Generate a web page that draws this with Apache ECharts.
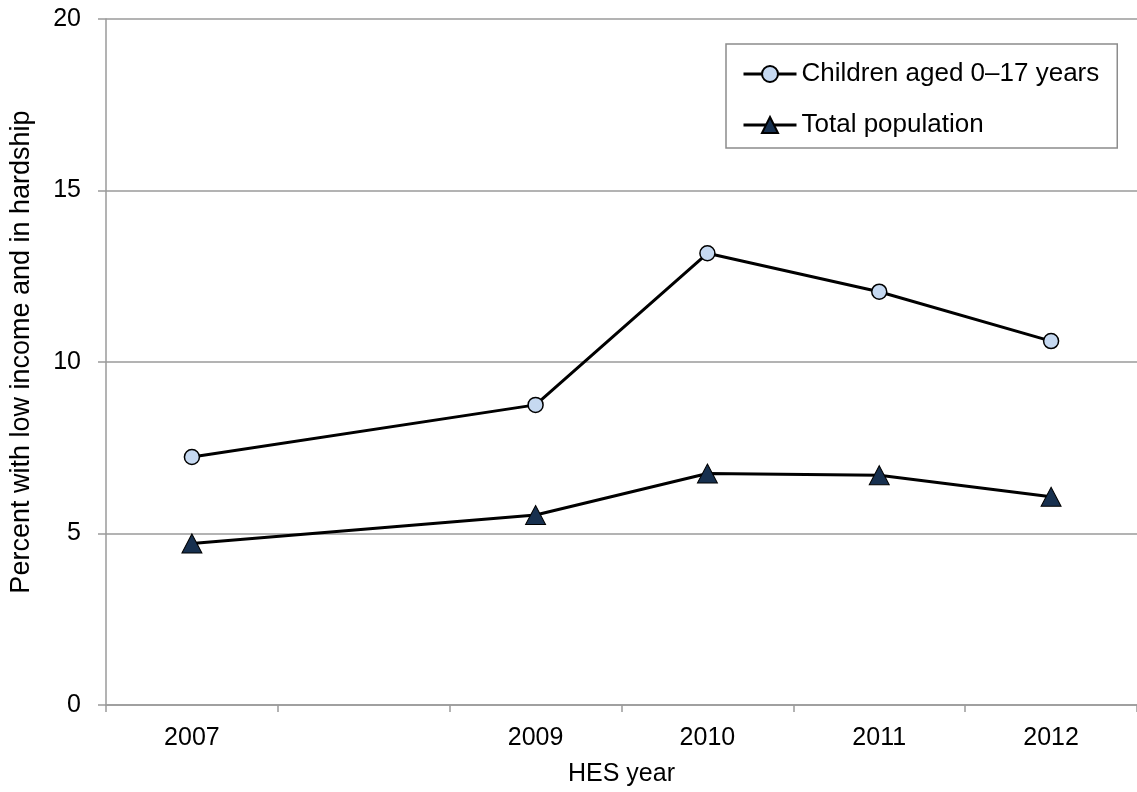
<!DOCTYPE html>
<html>
<head>
<meta charset="utf-8">
<script src="https://cdn.jsdelivr.net/npm/echarts@6/dist/echarts.min.js"></script>
<style>
  html, body { margin: 0; padding: 0; background: #fff; }
  #chart { width: 1137px; height: 792px; }
</style>
</head>
<body>
<div id="chart"></div>
<script>
// HES survey years; 2008 has no survey, so its slot is left unlabelled
const years = ['2007', '2008', '2009', '2010', '2011', '2012'];
const yearLabels = ['2007', '', '2009', '2010', '2011', '2012'];

// Percent with low income and in hardship
const children = [7.23, null, 8.75, 13.17, 12.05, 10.61];
const totalPopulation = [4.71, null, 5.54, 6.75, 6.70, 6.07];

const yTicks = [0, 5, 10, 15, 20];

const FONT = '"Liberation Sans", Arial, sans-serif';
const GRID_GREY = '#9a9a9a';

const chart = echarts.init(document.getElementById('chart'), null, { renderer: 'canvas' });

chart.setOption({
  animation: false,
  backgroundColor: '#ffffff',
  textStyle: { fontFamily: FONT, color: '#000' },
  grid: { left: 105, top: 19, width: 1041, height: 686, containLabel: false },
  legend: {
    orient: 'vertical',
    left: 726,
    top: 44,
    padding: [17, 18, 10, 16],
    itemGap: 25,
    itemWidth: 53,
    itemHeight: 20,
    itemTextGap: 5,
    backgroundColor: '#fff',
    borderColor: '#8c8c8c',
    borderWidth: 1.5,
    lineStyle: { width: 3 },
    textStyle: { fontFamily: FONT, fontSize: 26, color: '#000' },
    data: ['Children aged 0–17 years', 'Total population']
  },
  xAxis: {
    type: 'category',
    data: years,
    boundaryGap: true,
    name: 'HES year',
    nameLocation: 'middle',
    nameGap: 57,
    nameTextStyle: { fontFamily: FONT, fontSize: 25, color: '#000' },
    axisLine: { lineStyle: { color: GRID_GREY, width: 1.5 } },
    axisTick: { show: true, alignWithLabel: false, length: 7, lineStyle: { color: GRID_GREY, width: 1.5 } },
    axisLabel: {
      margin: 21,
      fontFamily: FONT, fontSize: 25, color: '#000',
      interval: 0,
      formatter: (v, i) => yearLabels[i]
    },
    splitLine: { show: false }
  },
  yAxis: {
    type: 'value',
    min: yTicks[0],
    max: yTicks[yTicks.length - 1],
    interval: 5,
    name: 'Percent with low income and in hardship',
    nameLocation: 'middle',
    nameRotate: 90,
    nameGap: 71,
    nameTextStyle: { fontFamily: FONT, fontSize: 27, color: '#000', padding: [0, 0, 0, 20] },
    axisLine: { show: true, lineStyle: { color: GRID_GREY, width: 1.5 } },
    axisTick: { show: true, inside: false, length: 8, lineStyle: { color: GRID_GREY, width: 1.5 } },
    axisLabel: { margin: 25, fontFamily: FONT, fontSize: 25, color: '#000' },
    splitLine: { show: true, lineStyle: { color: GRID_GREY, width: 1.5 } }
  },
  series: [
    {
      name: 'Children aged 0–17 years',
      type: 'line',
      data: children,
      connectNulls: true,
      symbol: 'circle',
      symbolSize: 15,
      lineStyle: { color: '#000', width: 3 },
      itemStyle: { color: '#c6d9f1', borderColor: '#000', borderWidth: 1.5 },
      z: 3
    },
    {
      name: 'Total population',
      type: 'line',
      data: totalPopulation,
      connectNulls: true,
      symbol: 'triangle',
      symbolSize: [20, 19],
      lineStyle: { color: '#000', width: 3 },
      itemStyle: { color: '#17304f', borderColor: '#000', borderWidth: 1 },
      z: 3
    }
  ]
});
</script>
</body>
</html>
